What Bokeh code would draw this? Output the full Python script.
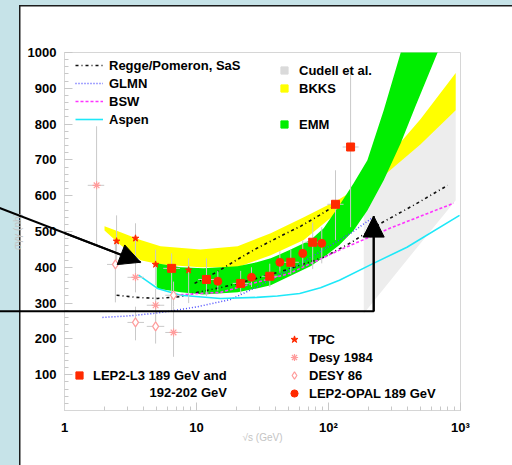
import numpy as np
from bokeh.plotting import figure
from bokeh.models import (Range1d, Legend, LegendItem, Label, Arrow, NormalHead, FixedTicker)
from bokeh.embed import file_html
from bokeh.resources import INLINE

# ---------------- data ----------------
regge_lo_x = [2.48, 3.5, 5.07, 7.5, 10.2, 16, 28.6, 50, 92, 150, 249, 450, 800]
regge_lo_y = [322, 316, 313, 318, 330, 345, 369, 395, 428, 470, 523, 575, 629]
regge_hi_x = [9.67, 14, 20, 28.6, 45, 61.7, 85, 113]
regge_hi_y = [355, 385, 420, 453, 490, 515, 545, 573]
glmn_x = [1.94, 3.0, 4.73, 7.0, 10.2, 18.1, 28.6, 61.7, 147, 213]
glmn_y = [260, 264, 271, 280, 290, 310, 345, 411, 495, 537]
bsw_x = [6.93, 10.7, 15.2, 28.6, 50.7, 121, 291, 888]
bsw_y = [322, 327, 330, 358, 383, 448, 509, 579]
aspen_x = [3.64, 5.07, 7.57, 15.2, 28.6, 41, 60.5, 87, 121, 219, 393, 983]
aspen_y = [378, 341, 322, 313, 316, 320, 327, 343, 364, 411, 456, 545]

bkks_x = [2.01, 2.66, 3.77, 5.34, 10.7, 20.5, 36.5, 65, 117, 176, 249, 499, 920]
bkks_top = [515, 498, 476, 459, 450, 459, 495, 540, 587, 627, 685, 814, 943]
bkks_bot = [503, 462, 420, 408, 400, 400, 434, 476, 554, 601, 649, 744, 839]
emm_x = [4.99, 7.57, 11.3, 20.5, 28.6, 36.5, 50.7, 73.1, 91.9, 121, 155, 197, 262, 353, 456, 672]
emm_top = [411, 400, 397, 403, 414, 425, 448, 476, 509, 573, 635, 699, 839, 1001, 1200, 1450]
emm_bot = [341, 330, 324, 330, 341, 350, 375, 403, 428, 462, 503, 559, 643, 747, 850, 1001]
cudell_x = [185, 420, 920]
cudell_top = [605, 740, 839]
cudell_bot = [271, 434, 587]

l3_x = [6.48, 11.9, 21.6, 35.9, 51.8, 75.9, 113, 147]
l3_y = [397, 366, 355, 375, 414, 470, 576, 736]
l3_ylo = [280, 320, 325, 345, 380, 395, 476, 512]
l3_yhi = [439, 425, 390, 410, 450, 525, 671, 945]
l3_xlo = [5.6, 10.3, 18.8, 31.2, 45, 66, 98, 128]
l3_xhi = [7.5, 13.7, 24.8, 41.3, 59.6, 87, 130, 169]

opal_x = [14.5, 26.1, 42.8, 63.8, 88.9]
opal_y = [361, 372, 414, 439, 467]
opal_ylo = [335, 345, 385, 405, 411]
opal_yhi = [390, 400, 445, 475, 512]

tpc_x = [2.48, 3.45, 4.9, 8.72]
tpc_y = [473, 481, 408, 392]
tpc_ylo = [420, 428, 350, 300]
tpc_yhi = [545, 523, 450, 425]

desy84_x = [1.75, 3.45, 4.9, 6.7]
desy84_y = [629, 372, 294, 218]
desy84_ylo = [464, 330, 250, 150]
desy84_yhi = [794, 420, 340, 290]
desy84_xlo = [1.5, 3.0, 4.2, 5.8]
desy84_xhi = [2.0, 4.0, 5.7, 7.7]

desy86_x = [2.43, 3.45, 4.9, 6.7]
desy86_y = [408, 246, 235, 322]
desy86_ylo = [302, 196, 187, 290]
desy86_yhi = [470, 290, 300, 360]
desy86_xlo = [2.1, 3.0, 4.2, 5.8]
desy86_xhi = [2.8, 4.0, 5.7, 7.7]

arrow1_x = [0.3, 3.77]
arrow1_y = [570, 414]
arrow2_x = [0.3, 220, 220]
arrow2_y = [277, 277, 543]

x_ticks = [1, 10, 100, 1000]
x_tick_labels = ["1", "10", "10\u00b2", "10\u00b3"]
y_ticks = [100, 200, 300, 400, 500, 600, 700, 800, 900, 1000]

# ---------------- figure ----------------
FONT = "Liberation Sans"
BLUE = "#c6e3e8"
DARK = "#1c1c1c"
p = figure(width=512, height=465, x_axis_type="log",
           x_range=Range1d(1, 1000), y_range=Range1d(0, 1000),
           output_backend="svg", toolbar_location=None,
           min_border_left=64, min_border_right=52,
           min_border_top=52, min_border_bottom=55)
# light-blue surround with a white panel (page decoration behind the canvas)
p.styles = {
    "background": (f"linear-gradient({DARK},{DARK}) 19px 5px / 493px 1.5px no-repeat, "
                   f"linear-gradient({DARK},{DARK}) 19px 5px / 1.5px 460px no-repeat, "
                   f"linear-gradient(#ffffff,#ffffff) 20px 6px / 492px 459px no-repeat, {BLUE}")
}
p.border_fill_alpha = 0
p.background_fill_color = "white"
p.outline_line_color = "#d6d6d6"
p.grid.visible = False

p.xaxis.ticker = FixedTicker(ticks=x_ticks,
                             minor_ticks=[m * d for d in (1, 10, 100) for m in range(2, 10)])
p.yaxis.ticker = FixedTicker(ticks=y_ticks, minor_ticks=list(range(20, 1000, 20)))
p.xaxis.major_label_overrides = {t: l for t, l in zip(x_ticks, x_tick_labels)}
for ax in (p.xaxis[0], p.yaxis[0]):
    ax.axis_line_color = "#d6d6d6"
    ax.major_tick_line_color = "#c8c8c8"
    ax.minor_tick_line_color = "#c8c8c8"
    ax.major_tick_in = 8
    ax.major_tick_out = 0
    ax.minor_tick_in = 4
    ax.minor_tick_out = 0
    ax.major_label_text_font = FONT
    ax.major_label_text_font_style = "bold"
    ax.major_label_text_font_size = "13px"
    ax.major_label_text_color = "black"
    ax.axis_label_text_font = FONT
    ax.axis_label_text_font_style = "normal"
    ax.axis_label_text_font_size = "10px"
    ax.axis_label_text_color = "#c4c4c4"
p.yaxis.major_label_standoff = 8
p.xaxis.major_label_standoff = 9
p.xaxis.axis_label = "\u221as (GeV)"
p.xaxis.axis_label_standoff = -6
p.yaxis.axis_label = "\u03c3\u03b3\u03b3 (nb)"
p.yaxis.axis_label_standoff = 2

# bands
p.varea(x=cudell_x, y1=cudell_bot, y2=cudell_top, fill_color="#ededed")
p.varea(x=bkks_x, y1=bkks_bot, y2=bkks_top, fill_color="#ffff00")
p.varea(x=emm_x, y1=emm_bot, y2=emm_top, fill_color="#00ee00")

# curves
r_regge = p.line(regge_lo_x, regge_lo_y, line_color="#111111", line_width=1.6, line_dash="3 3 1 3")
p.line(regge_hi_x, regge_hi_y, line_color="#111111", line_width=1.6, line_dash="3 3 1 3")
r_glmn = p.line(glmn_x, glmn_y, line_color="#4a4aff", line_width=1.5, line_dash="1 2")
r_bsw = p.line(bsw_x, bsw_y, line_color="#ff33ff", line_width=1.6, line_dash="3 2")
r_aspen = p.line(aspen_x, aspen_y, line_color="#1ee8f8", line_width=1.6)

# error bars
EB = "#c9c9c9"
def ebars(x, y, ylo, yhi, xlo=None, xhi=None):
    p.segment(x0=x, y0=ylo, x1=x, y1=yhi, line_color=EB, line_width=1)
    if xlo is not None:
        p.segment(x0=xlo, y0=y, x1=xhi, y1=y, line_color=EB, line_width=1)

ebars(desy84_x, desy84_y, desy84_ylo, desy84_yhi, desy84_xlo, desy84_xhi)
ebars(desy86_x, desy86_y, desy86_ylo, desy86_yhi, desy86_xlo, desy86_xhi)
ebars(tpc_x, tpc_y, tpc_ylo, tpc_yhi)
ebars(opal_x, opal_y, opal_ylo, opal_yhi)
ebars(l3_x, l3_y, l3_ylo, l3_yhi, l3_xlo, l3_xhi)

# points
PINK = "#ff9c9c"
RED = "#ff2a00"
r_d84 = p.scatter(desy84_x, desy84_y, marker="asterisk", size=8, line_color=PINK, line_width=1.2)
r_d86 = p.scatter(desy86_x, desy86_y, marker="diamond", size=9, line_color=PINK, fill_color="white", line_width=1.2)
r_tpc = p.scatter(tpc_x, tpc_y, marker="star", size=7, line_color=RED, fill_color=RED)
r_opal = p.scatter(opal_x, opal_y, marker="circle", size=8, line_color=RED, fill_color=RED)
r_l3 = p.scatter(l3_x, l3_y, marker="square", size=8, line_color=RED, fill_color=RED)

# legend-only swatches (no visible point)
NAN = [float("nan")]
r_cud = p.scatter(x=NAN, y=NAN, marker="square", fill_color="#dadada", line_color="#dadada")
r_bk = p.scatter(x=NAN, y=NAN, marker="square", fill_color="#ffff00", line_color="#ffff00")
r_em = p.scatter(x=NAN, y=NAN, marker="square", fill_color="#00ee00", line_color="#00ee00")

def mk_legend(items, loc, gw, gh, standoff):
    lg = Legend(items=items, location=loc, orientation="vertical")
    lg.glyph_width = gw
    lg.glyph_height = gh
    lg.label_height = gh
    lg.spacing = 0
    lg.padding = 0
    lg.margin = 0
    lg.label_standoff = standoff
    lg.border_line_alpha = 0
    lg.background_fill_alpha = 0
    lg.label_text_font = FONT
    lg.label_text_font_style = "bold"
    lg.label_text_font_size = "13px"
    lg.label_text_color = "black"
    p.add_layout(lg)
    return lg

mk_legend([LegendItem(label="Regge/Pomeron, SaS", renderers=[r_regge]),
           LegendItem(label="GLMN", renderers=[r_glmn]),
           LegendItem(label="BSW", renderers=[r_bsw]),
           LegendItem(label="Aspen", renderers=[r_aspen])], (11, 282), 28, 18, 6)
mk_legend([LegendItem(label="Cudell et al.", renderers=[r_cud]),
           LegendItem(label="BKKS", renderers=[r_bk])], (211, 313), 18, 18, 6)
mk_legend([LegendItem(label="EMM", renderers=[r_em])], (211, 277), 18, 18, 6)
mk_legend([LegendItem(label="TPC", renderers=[r_tpc]),
           LegendItem(label="Desy 1984", renderers=[r_d84]),
           LegendItem(label="DESY 86", renderers=[r_d86]),
           LegendItem(label="LEP2-OPAL 189 GeV", renderers=[r_opal])], (221, 8), 18, 18, 6)
mk_legend([LegendItem(label="LEP2-L3 189 GeV and", renderers=[r_l3])], (6, 26), 18, 18, 5)
p.add_layout(Label(x=4.41, y=50, text="192-202 GeV", text_font=FONT, text_font_style="bold",
                   text_font_size="13px", text_baseline="middle", text_color="black"))

# black arrows: shafts as overlay lines (reach outside the frame), heads as Arrow
p.line(arrow1_x, arrow1_y, line_color="black", line_width=2, level="overlay")
p.line(arrow2_x, arrow2_y, line_color="black", line_width=2, level="overlay")
p.add_layout(Arrow(end=NormalHead(size=21, fill_color="black", line_color="black"),
                   x_start=arrow1_x[0], y_start=arrow1_y[0], x_end=arrow1_x[1], y_end=arrow1_y[1],
                   line_color="black", line_width=2))
p.add_layout(Arrow(end=NormalHead(size=21, fill_color="black", line_color="black"),
                   x_start=arrow2_x[1], y_start=arrow2_y[1], x_end=arrow2_x[2], y_end=arrow2_y[2],
                   line_color="black", line_width=2))

open("out.html", "w").write(file_html(p, INLINE))
